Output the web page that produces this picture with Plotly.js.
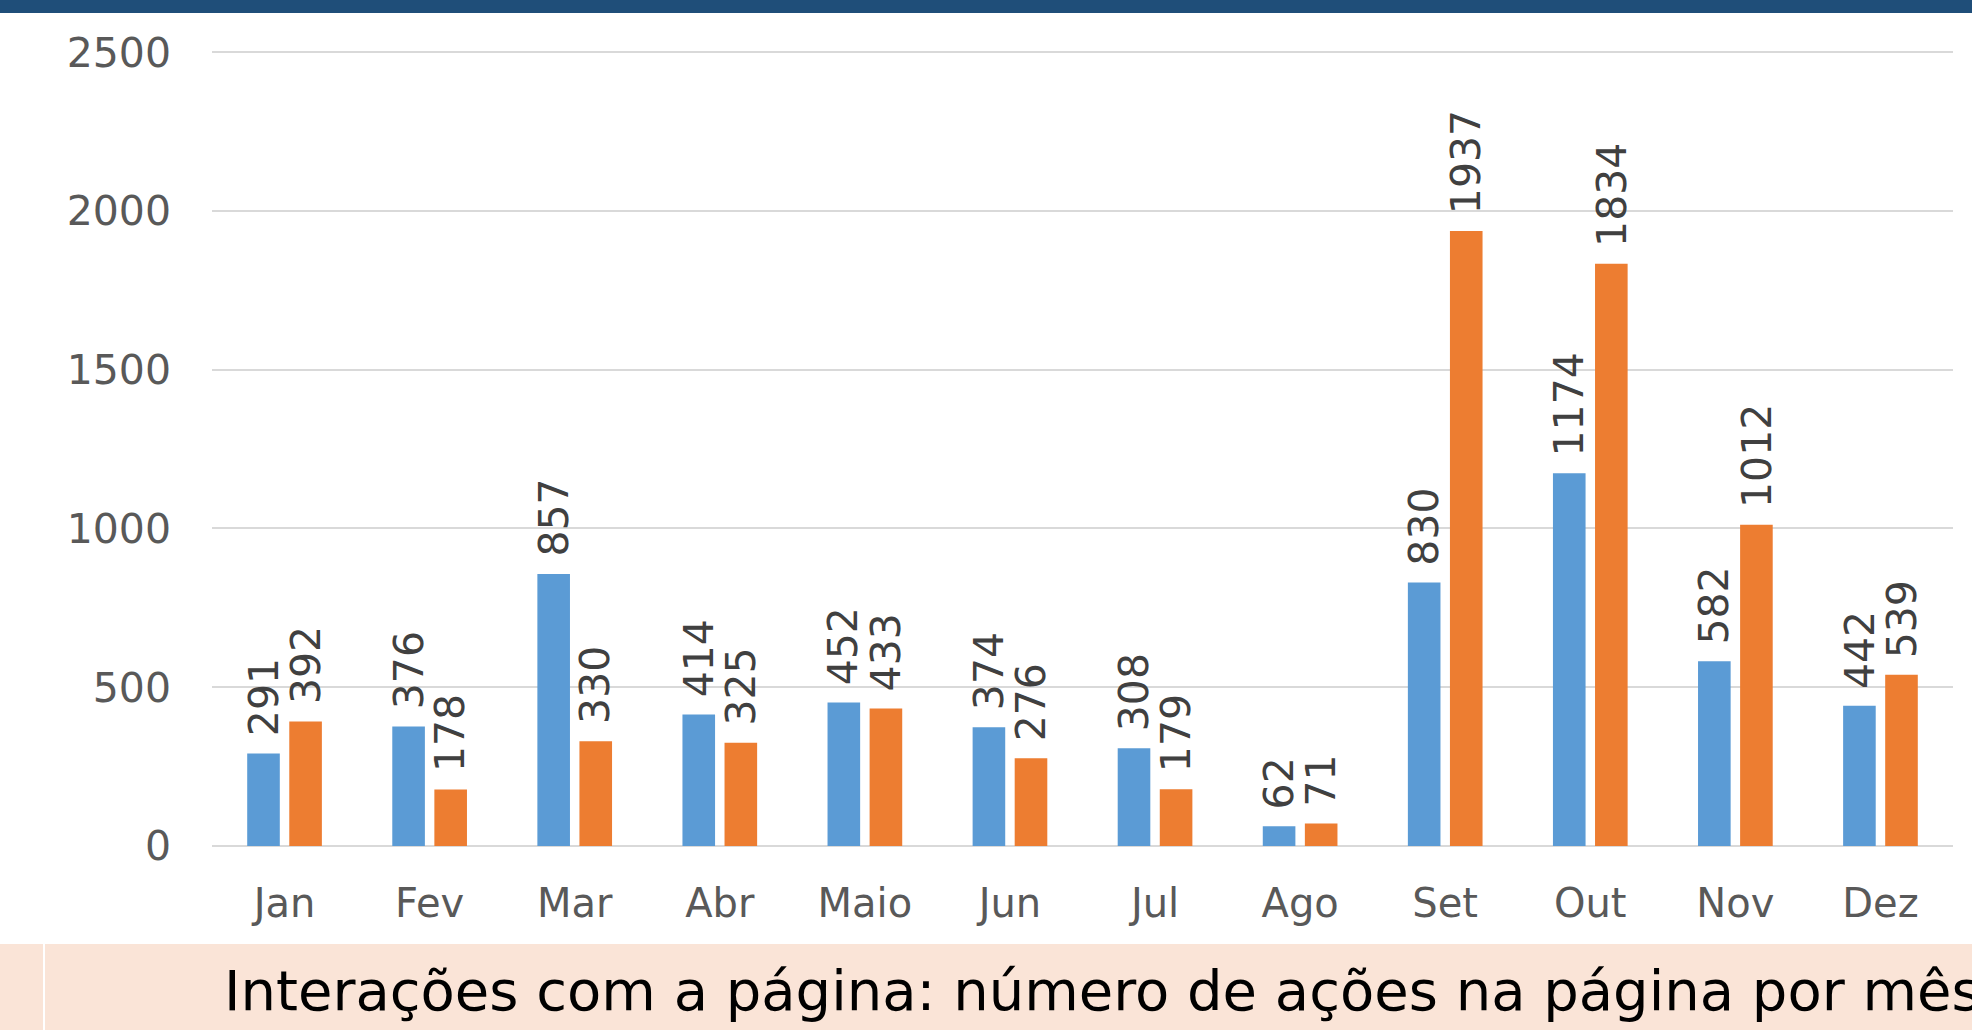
<!DOCTYPE html>
<html>
<head>
<meta charset="utf-8">
<script src="https://cdn.plot.ly/plotly-3.0.1.min.js"></script>
<style>
html,body{margin:0;padding:0;background:#fff;}
#chart{width:1972px;height:1033px;}
</style>
</head>
<body>
<div id="chart"></div>
<script>
const months = ["Jan","Fev","Mar","Abr","Maio","Jun","Jul","Ago","Set","Out","Nov","Dez"];
const seriesA = [291,376,857,414,452,374,308,62,830,1174,582,442];
const seriesB = [392,178,330,325,433,276,179,71,1937,1834,1012,539];
const yTicks = [0,500,1000,1500,2000,2500];
const titleText = "Interações com a página: número de ações na página por mês";

const W = 1972, H = 1033;
const yMax = 2510;
const M = {l:212, r:19, t:49, b:187};
const pw = W - M.l - M.r, ph = H - M.t - M.b;
const px2x = p => (p - M.l) / pw;
const py2y = p => (H - M.b - p) / ph;

const FONT = "DejaVu Sans, Verdana, sans-serif";
const blue = "#5B9BD5", orange = "#ED7D31";

const traces = [
  {type:"bar", x:months, y:seriesA, marker:{color:blue}, hoverinfo:"x+y", name:"A"},
  {type:"bar", x:months, y:seriesB, marker:{color:orange}, hoverinfo:"x+y", name:"B"}
];

const annotations = [];
const offs = [-21, 21];
[seriesA, seriesB].forEach((s, k) => {
  s.forEach((v, i) => {
    annotations.push({
      x: months[i], y: v, xref:"x", yref:"y",
      text: String(v), textangle: -90, showarrow:false,
      xanchor:"center", yanchor:"bottom", xshift: offs[k], yshift: 15,
      font:{family:FONT, size:41, color:"#404040"}
    });
  });
});

const layout = {
  width: W, height: H,
  margin: M,
  paper_bgcolor:"#fff", plot_bgcolor:"#fff",
  showlegend:false,
  barmode:"group", bargap:0.42, bargroupgap:0.225,
  title:{text:titleText, xref:"container", yref:"container", x:224/W, xanchor:"left",
         y:1-990/H, yanchor:"middle",
         font:{family:FONT, size:56, color:"#000"}},
  xaxis:{type:"category", showgrid:false, zeroline:false, showline:false, ticks:"",
         tickfont:{family:FONT, size:40, color:"#595959"}, ticklabelstandoff:30, fixedrange:true},
  yaxis:{range:[0,yMax], tickvals:yTicks, ticktext:yTicks.map(String), showgrid:true,
         gridcolor:"#D9D9D9", gridwidth:2, zeroline:true, zerolinecolor:"#D9D9D9", zerolinewidth:2,
         showline:false, ticks:"", tickfont:{family:FONT, size:41, color:"#595959"},
         ticklabelstandoff:40, fixedrange:true},
  annotations: annotations,
  shapes:[
    {type:"rect", xref:"paper", yref:"paper", x0:px2x(0), x1:px2x(W), y0:py2y(13), y1:py2y(0),
     fillcolor:"#1F4E79", line:{width:0}, layer:"below"},
    {type:"rect", xref:"paper", yref:"paper", x0:px2x(0), x1:px2x(W), y0:py2y(1030), y1:py2y(944),
     fillcolor:"#FAE4D7", line:{width:0}, layer:"below"},
    {type:"line", xref:"paper", yref:"paper", x0:px2x(44), x1:px2x(44), y0:py2y(1030), y1:py2y(944),
     line:{color:"#FFFFFF", width:2}, layer:"below"}
  ]
};

Plotly.newPlot("chart", traces, layout, {displayModeBar:false, staticPlot:true});
</script>
</body>
</html>
